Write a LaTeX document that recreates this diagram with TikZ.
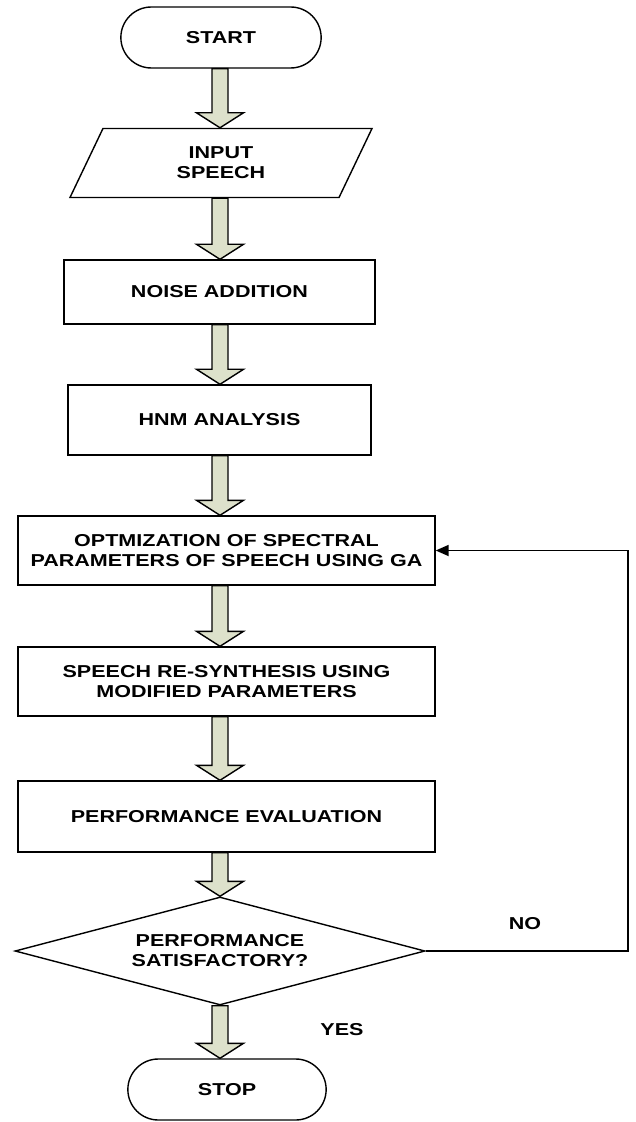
\documentclass[tikz,border=0pt]{standalone}
\usepackage{fontspec}
\setmainfont[FakeStretch=1.25]{Liberation Sans}
\usetikzlibrary{positioning,arrows.meta,shapes.geometric,shapes.misc,calc}
\definecolor{arrowfill}{RGB}{221,225,203}

\begin{document}
\begin{tikzpicture}[
  font=\bfseries\fontsize{9.8}{11.4}\selectfont,
  terminal/.style={draw, line width=0.8pt, rounded rectangle, align=center,
    minimum width=4.24cm, minimum height=1.22cm},
  ioblock/.style={draw, line width=0.8pt, trapezium, trapezium left angle=53,
    trapezium right angle=127, trapezium stretches body=true, align=center,
    minimum width=6.04cm, minimum height=1.38cm},
  procblock/.style={draw, line width=0.8pt, align=center, minimum height=1.38cm},
  decblock/.style={draw, line width=0.8pt, diamond, aspect=4, align=center,
    inner sep=1pt, minimum width=8.2cm, minimum height=2.16cm},
  % hollow block arrow between two points
  flow/.style={draw, line width=0.8pt, fill=arrowfill,
    to path={let \p1=(\tikztostart), \p2=(\tikztotarget) in
      (\x1-0.16cm,\y1) -- (\x1-0.16cm,\y2+0.3cm) -- (\x1-0.47cm,\y2+0.3cm)
      -- (\x2,\y2) -- (\x1+0.47cm,\y2+0.3cm) -- (\x1+0.16cm,\y2+0.3cm)
      -- (\x1+0.16cm,\y1) -- cycle}},
  loopflow/.style={line width=1pt,-{Triangle[length=0.26cm,width=0.22cm]}}
]
\useasboundingbox (0,0) rectangle (12.7,-22.44);
\coordinate (col) at (4.40,0);
\coordinate (loopx) at (12.56,0);

\node[terminal] (start) at (4.42,-0.75) {START};
\node[ioblock] (input) at (4.42,-3.26) {INPUT\\SPEECH};
\node[procblock, minimum width=6.22cm, minimum height=1.28cm] (noise)
  at (4.39,-5.84) {NOISE ADDITION};
\node[procblock, minimum width=6.06cm, minimum height=1.40cm] (hnm)
  at (4.39,-8.40) {HNM ANALYSIS};
\node[procblock, minimum width=8.34cm] (opt) at (4.53,-11.01)
  {OPTMIZATION OF SPECTRAL\\PARAMETERS OF SPEECH USING GA};
\node[procblock, minimum width=8.34cm] (resyn) at (4.53,-13.63)
  {SPEECH RE-SYNTHESIS USING\\MODIFIED PARAMETERS};
\node[procblock, minimum width=8.34cm, minimum height=1.42cm] (perf)
  at (4.53,-16.33) {PERFORMANCE EVALUATION};
\node[decblock] (dec) at (4.40,-19.02) {PERFORMANCE\\SATISFACTORY?};
\node[terminal, minimum width=4.2cm] (stop) at (4.54,-21.79) {STOP};
\node (no) at (10.5,-18.48) {NO};
\node (yes) at (6.84,-20.6) {YES};

\draw[flow] (start.south -| col) to (input.north -| col);
\draw[flow] (input.south -| col) to (noise.north -| col);
\draw[flow] (noise.south -| col) to (hnm.north -| col);
\draw[flow] (hnm.south -| col) to (opt.north -| col);
\draw[flow] (opt.south -| col) to (resyn.north -| col);
\draw[flow] (resyn.south -| col) to (perf.north -| col);
\draw[flow] (perf.south -| col) to (dec.north);
\draw[flow] (dec.south) to (stop.north -| col);
\draw[loopflow] (dec.east) -- (dec.east -| loopx) |- (opt.east);
\end{tikzpicture}
\end{document}
